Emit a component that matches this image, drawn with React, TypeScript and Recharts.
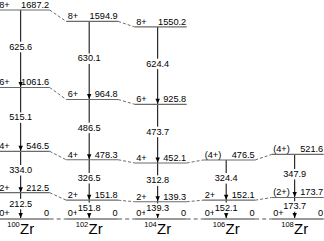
import { ComposedChart, XAxis, YAxis, Scatter, ReferenceLine } from "recharts";

const nuclei = ["100", "102", "104", "106", "108"];
const spins = [
  ["0+", "2+", "4+", "6+", "8+"],
  ["0+", "2+", "4+", "6+", "8+"],
  ["0+", "2+", "4+", "6+", "8+"],
  ["0+", "2+", "(4+)"],
  ["0+", "(2+)", "(4+)"],
];
const levelEnergies = [
  [0, 212.5, 546.5, 1061.6, 1687.2],
  [0, 151.8, 478.3, 964.8, 1594.9],
  [0, 139.3, 452.1, 925.8, 1550.2],
  [0, 152.1, 476.5],
  [0, 173.7, 521.6],
];
const levelLabels = [
  ["0", "212.5", "546.5", "1061.6", "1687.2"],
  ["0", "151.8", "478.3", "964.8", "1594.9"],
  ["0", "139.3", "452.1", "925.8", "1550.2"],
  ["0", "152.1", "476.5"],
  ["0", "173.7", "521.6"],
];
const gammaLabels = [
  ["212.5", "334.0", "515.1", "625.6"],
  ["151.8", "326.5", "486.5", "630.1"],
  ["139.3", "312.8", "473.7", "624.4"],
  ["152.1", "324.4"],
  ["173.7", "347.9"],
];

const FONT = "Liberation Sans, Arial, sans-serif";
const PX_PER_COL = 68.5;
const LEFT_PX = 23;
const RIGHT_PX = 29;

const levels = levelEnergies.flatMap((col, k) =>
  col.map((e, j) => ({
    x: k,
    y: e,
    spin: spins[k][j],
    label: levelLabels[k][j],
    ground: j === 0,
  }))
);

// one cascade per nucleus, top level first, arrowheads on every level below it
const cascades = levelEnergies.map((col, k) =>
  col
    .map((e, j) => ({ x: k, y: e, head: j < col.length - 1 }))
    .reverse()
);

const gammas = gammaLabels.flatMap((col, k) =>
  col.map((t, j) => ({
    x: k,
    y: (levelEnergies[k][j] + levelEnergies[k][j + 1]) / 2,
    label: t,
  }))
);

const links: { a: { x: number; y: number }; b: { x: number; y: number }; ground: boolean }[] = [];
for (let k = 0; k < levelEnergies.length - 1; k++) {
  const n = Math.min(levelEnergies[k].length, levelEnergies[k + 1].length);
  for (let j = 0; j < n; j++) {
    links.push({
      a: { x: k + RIGHT_PX / PX_PER_COL, y: levelEnergies[k][j] },
      b: { x: k + 1 - LEFT_PX / PX_PER_COL, y: levelEnergies[k + 1][j] },
      ground: j === 0,
    });
  }
}

const ArrowHead = (p: any) => {
  const { cx, cy, payload } = p;
  if (!payload.head) return <g />;
  const tip = payload.y === 0 ? cy - 1 : cy - 0.5;
  return (
    <path
      d={`M${cx - 2.2},${tip - 5} L${cx + 2.2},${tip - 5} L${cx},${tip} Z`}
      fill="#000"
    />
  );
};

const Level = (p: any) => {
  const { cx, cy, payload } = p;
  const dy = payload.ground ? 3 : 2;
  return (
    <g fontFamily={FONT} fontSize={9.2} fill="#000">
      <line
        x1={cx - LEFT_PX}
        x2={cx + RIGHT_PX}
        y1={cy}
        y2={cy}
        stroke={payload.ground ? "#9a9a9a" : "#6a6a6a"}
        strokeWidth={payload.ground ? 2 : 1.2}
      />
      <text x={cx - LEFT_PX + 1.5} y={cy - dy}>
        {payload.spin}
      </text>
      <text x={cx + RIGHT_PX - 0.5} y={cy - dy} textAnchor="end">
        {payload.label}
      </text>
    </g>
  );
};

const Gamma = (p: any) => {
  const { cx, cy, payload } = p;
  return (
    <g>
      <rect x={cx - 12.5} y={cy - 7} width={25} height={10.5} fill="#fff" />
      <text
        x={cx}
        y={cy + 1}
        textAnchor="middle"
        fontFamily={FONT}
        fontSize={9.2}
        fill="#000"
      >
        {payload.label}
      </text>
    </g>
  );
};

const NucleusTick = (p: any) => {
  const { x, y, payload } = p;
  const start = x - 13.4;
  return (
    <g fontFamily={FONT} fill="#000">
      <text x={start} y={y + 5.5} fontSize={7.5}>
        {nuclei[payload.value]}
      </text>
      <text x={start + 12.8} y={y + 12.5} fontSize={15}>
        Zr
      </text>
    </g>
  );
};

export default function App() {
  return (
    <div style={{ position: "absolute", left: 0, top: 0, background: "#fff" }}>
      <ComposedChart
        width={324}
        height={241}
        margin={{ top: 0, right: 0, bottom: 0, left: 0 }}
      >
        <XAxis
          type="number"
          dataKey="x"
          domain={[-0.302, 4.428]}
          allowDataOverflow
          ticks={[0, 1, 2, 3, 4]}
          interval={0}
          height={20}
          axisLine={false}
          tickLine={false}
          tickSize={0}
          tickMargin={0}
          tick={NucleusTick}
        />
        <YAxis
          type="number"
          dataKey="y"
          domain={[-16.1, 1767.9]}
          allowDataOverflow
          hide
        />
        {links.map((l, i) => (
          <ReferenceLine
            key={"l" + i}
            segment={[l.a, l.b]}
            stroke={l.ground ? "#aaaaaa" : "#444444"}
            strokeWidth={l.ground ? 2 : 0.8}
            strokeDasharray={l.ground ? "4 3" : "3 2"}
          />
        ))}
        {cascades.map((c, k) => (
          <Scatter
            key={"c" + k}
            data={c}
            line={{ stroke: "#000", strokeWidth: 1 }}
            shape={ArrowHead}
            isAnimationActive={false}
          />
        ))}
        <Scatter data={levels} shape={Level} isAnimationActive={false} />
        <Scatter data={gammas} shape={Gamma} isAnimationActive={false} />
      </ComposedChart>
    </div>
  );
}
